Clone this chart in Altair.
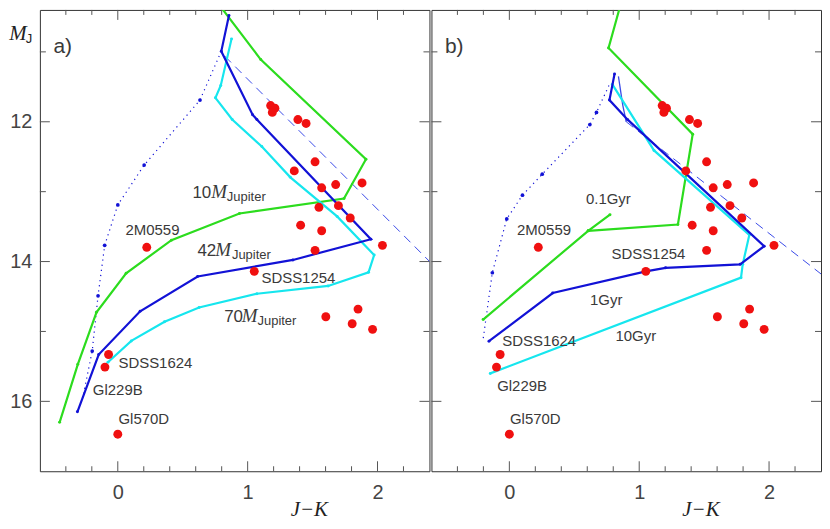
import altair as alt
import pandas as pd

# ---------------- data ----------------
red_x = [1.177, 1.21, 1.19, 1.387, 1.45, 1.519, 1.359, 1.57, 1.678, 1.881, 1.549, 1.699, 1.79,
         1.408, 1.57, 1.519, 2.038, 0.223, 1.051, 1.602, 1.85, 1.805, 1.962, -0.071, -0.099, 0.0]
red_y = [11.768, 11.805, 11.866, 11.968, 12.024, 12.573, 12.703, 12.945, 12.898, 12.875, 13.224, 13.2, 13.377,
         13.48, 13.559, 13.84, 13.768, 13.796, 14.14, 14.79, 14.68, 14.89, 14.97, 15.33, 15.51, 16.47]

# panel a: mass tracks
green_a_x = [0.77, 1.101, 1.911, 1.742, 0.937, 0.413, 0.064, -0.164, -0.308, -0.448]
green_a_y = [10.3, 11.11, 12.536, 13.098, 13.312, 13.694, 14.168, 14.726, 15.47, 16.30]
blue_a_x = [0.856, 0.797, 1.038, 1.071, 1.949, 1.349, 0.615, 0.172, -0.147, -0.311]
blue_a_y = [10.479, 10.991, 11.898, 11.968, 13.68, 13.977, 14.214, 14.712, 15.33, 16.15]
cyan_a_x = [0.876, 0.793, 0.752, 0.881, 1.109, 1.329, 1.689, 1.974, 1.931, 1.62, 1.071, 0.626, 0.36, 0.104, -0.076]
cyan_a_y = [10.814, 11.48, 11.657, 11.968, 12.354, 12.795, 13.354, 13.907, 14.154, 14.349, 14.46, 14.657, 14.861, 15.135, 15.44]
dot_a_x = [0.797, 0.633, 0.203, 0.0, -0.101, -0.152, -0.197, -0.27]
dot_a_y = [10.991, 11.689, 12.62, 13.19, 13.768, 14.49, 15.28, 15.95]
dash_a_x = [0.823, 2.45]
dash_a_y = [11.06, 14.09]

# panel b: isochrones
green_b1_x = [0.86, 0.764, 1.412, 1.298, 0.607]
green_b1_y = [10.3, 10.945, 12.177, 13.47, 13.56]
green_b2_x = [0.775, 0.607, -0.202]
green_b2_y = [13.33, 13.56, 14.83]
blue_b_x = [0.81, 0.771, 0.911, 1.962, 1.777, 1.203, 1.051, 0.334, -0.157]
blue_b_y = [11.316, 11.69, 11.97, 13.78, 14.04, 14.09, 14.14, 14.45, 15.14]
cyan_b_x = [0.793, 1.114, 1.848, 1.797, 1.784, -0.147]
cyan_b_y = [11.466, 12.41, 13.62, 14.04, 14.23, 15.6]
dot_b_x = [0.767, 0.671, 0.62, 0.253, 0.101, -0.02, -0.131, -0.202]
dot_b_y = [11.48, 11.866, 12.04, 12.75, 13.05, 13.39, 14.16, 15.11]
thin_b_x = [0.84, 0.873, 0.9]
thin_b_y = [11.35, 11.76, 12.0]
dash_b_x = [0.9, 2.45]
dash_b_y = [12.0, 14.25]

# labels
lab_a_text = ["2M0559", "SDSS1254", "SDSS1624", "Gl229B", "Gl570D"]
lab_a_x = [0.059, 1.106, 0.005, -0.192, 0.005]
lab_a_y = [13.615, 14.31, 15.526, 15.916, 16.32]
lab_b_text = ["2M0559", "SDSS1254", "SDSS1624", "Gl229B", "Gl570D", "0.1Gyr", "1Gyr", "10Gyr"]
lab_b_x = [0.059, 0.786, -0.055, -0.094, 0.005, 0.59, 0.621, 0.817]
lab_b_y = [13.615, 13.963, 15.205, 15.85, 16.32, 13.18, 14.62, 15.135]
mass_num = ["10", "42", "70"]
mass_num_x = [0.575, 0.613, 0.819]
mass_M_x = [0.719, 0.75, 0.954]
mass_sub_x = [0.84, 0.879, 1.076]
mass_y = [13.084, 13.92, 14.87]
mass_sub_y = [13.13, 13.96, 14.91]

x_major = [0, 1, 2]
x_minor = [-0.4, -0.2, 0.2, 0.4, 0.6, 0.8, 1.2, 1.4, 1.6, 1.8, 2.2]
y_major = [12, 14, 16]
y_minor = [11, 13, 15]

# ---------------- styling ----------------
W, H = 391, 463
XD = [-0.6, 2.4]
YD = [10.4, 17]
GREEN, BLUE, CYAN, RED = "#2cdc1e", "#1212d6", "#16e6ee", "#f01010"
TICK = "#555555"
TXT = "#3a3a3a"
SANS = "Liberation Sans"
SERIF = "Liberation Serif"


def X(axis=None):
    return alt.X("x:Q", scale=alt.Scale(domain=XD, nice=False, zero=False), axis=axis)


def Y(axis=None):
    return alt.Y("y:Q", scale=alt.Scale(domain=YD, reverse=True, nice=False, zero=False), axis=axis)


def df_xy(xs, ys, seg=0):
    return pd.DataFrame({"x": xs, "y": ys, "i": list(range(len(xs))), "seg": seg})


def panel(lines, dotted, dashed, labels, tag, show_y, extra):
    xax = alt.Axis(values=x_major, ticks=False, domain=False, grid=False, format="d",
                   labelFont=SANS, labelFontSize=20, labelColor="#444", labelPadding=11,
                   title="J\u2212K", titleFont=SERIF, titleFontStyle="italic", titleFontWeight="normal",
                   titleFontSize=21, titleColor="#222", titleX=270, titleY=44,
                   titleAlign="center", titleBaseline="alphabetic")
    if show_y:
        yax = alt.Axis(values=y_major, ticks=False, domain=False, grid=False, format="d",
                       labelFont=SANS, labelFontSize=20, labelColor="#444", labelPadding=8, title=None)
    else:
        yax = None
    xe, ye = X(xax), Y(yax)
    layers = []
    # tick marks (inward)
    dxM = pd.DataFrame({"x": x_major}); dxm = pd.DataFrame({"x": x_minor})
    dyM = pd.DataFrame({"y": y_major}); dym = pd.DataFrame({"y": y_minor})
    for d, ln in ((dxM, 10), (dxm, 5)):
        layers.append(alt.Chart(d).mark_rule(color=TICK, strokeWidth=1).encode(x=xe, y=alt.value(H), y2=alt.value(H - ln)))
        layers.append(alt.Chart(d).mark_rule(color=TICK, strokeWidth=1).encode(x=xe, y=alt.value(0), y2=alt.value(ln)))
    for d, ln in ((dyM, 10), (dym, 6)):
        layers.append(alt.Chart(d).mark_rule(color=TICK, strokeWidth=1).encode(y=ye, x=alt.value(0), x2=alt.value(ln)))
        layers.append(alt.Chart(d).mark_rule(color=TICK, strokeWidth=1).encode(y=ye, x=alt.value(W), x2=alt.value(W - ln)))
    # dashed line
    for dx, dy, w in dashed:
        layers.append(alt.Chart(df_xy(dx, dy)).mark_line(color="#3a4ae8", strokeWidth=w, strokeDash=[9, 6] if w < 1.2 else [1, 0], clip=True)
                      .encode(x=xe, y=ye, order="i:Q"))
    # dotted line
    dd = df_xy(*dotted)
    layers.append(alt.Chart(dd).mark_line(color=BLUE, strokeWidth=1.2, strokeDash=[1.2, 4], clip=True)
                  .encode(x=xe, y=ye, order="i:Q"))
    layers.append(alt.Chart(dd.iloc[1:-1]).mark_circle(color=BLUE, size=14, opacity=1).encode(x=xe, y=ye))
    # solid tracks
    for xs, ys, col in lines:
        d = df_xy(xs, ys)
        layers.append(alt.Chart(d).mark_line(color=col, strokeWidth=2.2, clip=True).encode(x=xe, y=ye, order="i:Q"))
        layers.append(alt.Chart(d).mark_circle(color=col, size=9, opacity=1, clip=True).encode(x=xe, y=ye))
    # red objects
    layers.append(alt.Chart(pd.DataFrame({"x": red_x, "y": red_y})).mark_circle(color=RED, size=80, opacity=1)
                  .encode(x=xe, y=ye))
    # object / track labels
    lt, lx, ly = labels
    layers.append(alt.Chart(pd.DataFrame({"x": lx, "y": ly, "t": lt})).mark_text(
        align="left", baseline="alphabetic", font=SANS, fontSize=15, color=TXT).encode(x=xe, y=ye, text="t:N"))
    # panel tag
    layers.append(alt.Chart(pd.DataFrame({"x": [-0.496], "y": [11.02], "t": [tag]})).mark_text(
        align="left", baseline="alphabetic", font=SANS, fontSize=21, color=TXT).encode(x=xe, y=ye, text="t:N"))
    layers += extra(xe, ye)
    return alt.layer(*layers).properties(width=W, height=H)


def extra_a(xe, ye):
    d1 = pd.DataFrame({"x": mass_num_x, "y": mass_y, "t": mass_num})
    d2 = pd.DataFrame({"x": mass_M_x, "y": mass_y, "t": ["M"] * 3})
    d3 = pd.DataFrame({"x": mass_sub_x, "y": mass_sub_y, "t": ["Jupiter"] * 3})
    d4 = pd.DataFrame({"x": [-0.835], "y": [10.824], "t": ["M"]})
    d5 = pd.DataFrame({"x": [-0.708], "y": [10.88], "t": ["J"]})
    return [
        alt.Chart(d1).mark_text(align="left", baseline="alphabetic", font=SANS, fontSize=17, color=TXT).encode(x=xe, y=ye, text="t:N"),
        alt.Chart(d2).mark_text(align="left", baseline="alphabetic", font=SERIF, fontStyle="italic", fontSize=19, color=TXT).encode(x=xe, y=ye, text="t:N"),
        alt.Chart(d3).mark_text(align="left", baseline="alphabetic", font=SANS, fontSize=13, color=TXT).encode(x=xe, y=ye, text="t:N"),
        alt.Chart(d4).mark_text(align="left", baseline="alphabetic", font=SERIF, fontStyle="italic", fontSize=21, color="#222").encode(x=xe, y=ye, text="t:N"),
        alt.Chart(d5).mark_text(align="left", baseline="alphabetic", font=SANS, fontSize=13, color="#222").encode(x=xe, y=ye, text="t:N"),
    ]


def extra_b(xe, ye):
    return []


pa = panel(
    lines=[(green_a_x, green_a_y, GREEN), (cyan_a_x, cyan_a_y, CYAN), (blue_a_x, blue_a_y, BLUE)],
    dotted=(dot_a_x, dot_a_y),
    dashed=[(dash_a_x, dash_a_y, 1.0)],
    labels=(lab_a_text, lab_a_x, lab_a_y), tag="a)", show_y=True, extra=extra_a)

pb = panel(
    lines=[(green_b1_x, green_b1_y, GREEN), (green_b2_x, green_b2_y, GREEN),
           (cyan_b_x, cyan_b_y, CYAN), (blue_b_x, blue_b_y, BLUE)],
    dotted=(dot_b_x, dot_b_y),
    dashed=[(dash_b_x, dash_b_y, 1.0), (thin_b_x, thin_b_y, 1.3)],
    labels=(lab_b_text, lab_b_x, lab_b_y), tag="b)", show_y=False, extra=extra_b)

chart = alt.hconcat(pa, pb, spacing=0).properties(
    padding={"left": 0, "top": 0, "right": 0, "bottom": 0}
).configure_view(stroke="#333333", strokeWidth=1)

chart.save("out.html", embed_options={"renderer": "svg", "actions": False})
